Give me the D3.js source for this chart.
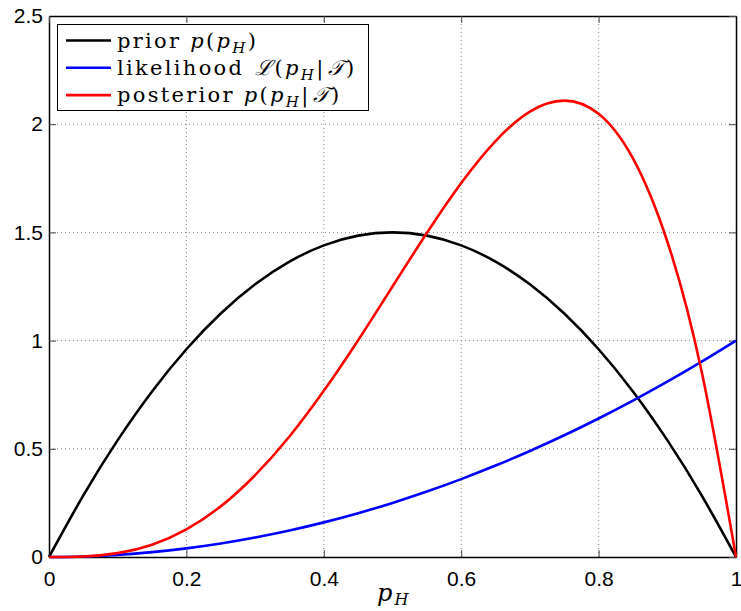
<!DOCTYPE html>
<html>
<head>
<meta charset="utf-8">
<script src="https://cdn.jsdelivr.net/npm/d3@7"></script>
<style>
  body { margin: 0; background: #fff; }
  .tick text { font-family: "Liberation Sans", Arial, sans-serif; font-size: 21px; fill: #000; }
  .leg text, .xlab { font-family: "DejaVu Serif", "Liberation Serif", serif; }
</style>
</head>
<body>
<svg width="741" height="611"></svg>
<script>
// values, step 0.05 in p_H
var pH = [0, 0.05, 0.1, 0.15, 0.2, 0.25, 0.3, 0.35, 0.4, 0.45, 0.5, 0.55, 0.6, 0.65, 0.7, 0.75, 0.8, 0.85, 0.9, 0.95, 1];
var prior = [0, 0.285, 0.54, 0.765, 0.96, 1.125, 1.26, 1.365, 1.44, 1.485, 1.5, 1.485, 1.44, 1.365, 1.26, 1.125, 0.96, 0.765, 0.54, 0.285, 0];
var likelihood = [0, 0.0025, 0.01, 0.0225, 0.04, 0.0625, 0.09, 0.1225, 0.16, 0.2025, 0.25, 0.3025, 0.36, 0.4225, 0.49, 0.5625, 0.64, 0.7225, 0.81, 0.9025, 1];
var posterior = [0, 0.0024, 0.018, 0.057, 0.128, 0.234, 0.378, 0.557, 0.768, 1.002, 1.25, 1.497, 1.728, 1.922, 2.058, 2.109, 2.048, 1.842, 1.458, 0.857, 0];

var xTicks = [0, 0.2, 0.4, 0.6, 0.8, 1];
var yTicks = [0, 0.5, 1, 1.5, 2, 2.5];

var series = [
  {name: "prior", values: prior, color: "#000000"},
  {name: "likelihood", values: likelihood, color: "#0000ff"},
  {name: "posterior", values: posterior, color: "#ff0000"}
];

var svg = d3.select("svg");
var padding = {top: 16, right: 5, bottom: 54, left: 49};
var width = +svg.attr("width"), height = +svg.attr("height");
var w = width - padding.left - padding.right;
var h = height - padding.top - padding.bottom;

var canvas = svg.append("g")
  .attr("transform", "translate(" + padding.left + "," + padding.top + ")");

var x = d3.scaleLinear().domain([0, 1]).range([0, w]);
var y = d3.scaleLinear().domain([0, 2.5]).range([h, 0]);

// dotted grid
canvas.selectAll("line.gx").data(xTicks.slice(1, -1)).enter().append("line")
  .attr("x1", d => x(d)).attr("x2", d => x(d)).attr("y1", 0).attr("y2", h)
  .style("stroke", "#888").style("stroke-dasharray", "1,3");
canvas.selectAll("line.gy").data(yTicks.slice(1, -1)).enter().append("line")
  .attr("x1", 0).attr("x2", w).attr("y1", d => y(d)).attr("y2", d => y(d))
  .style("stroke", "#888").style("stroke-dasharray", "1,3");

// axes, ticks inward
var xAxis = d3.axisBottom(x).tickValues(xTicks).tickFormat(d3.format("")).tickSizeInner(-7).tickSizeOuter(0).tickPadding(14);
var yAxis = d3.axisLeft(y).tickValues(yTicks).tickFormat(d3.format("")).tickSizeInner(-7).tickSizeOuter(0).tickPadding(6);

var gX = canvas.append("g").attr("transform", "translate(0," + h + ")").call(xAxis);
var gY = canvas.append("g").call(yAxis);
canvas.append("g").call(d3.axisTop(x).tickValues(xTicks).tickFormat("").tickSizeInner(-7).tickSizeOuter(0));
canvas.append("g").attr("transform", "translate(" + w + ",0)")
  .call(d3.axisRight(y).tickValues(yTicks).tickFormat("").tickSizeInner(-7).tickSizeOuter(0));
canvas.selectAll(".domain").style("stroke", "#000").style("stroke-width", 1.5);
canvas.selectAll(".tick line").style("stroke", "#444");

// curves
var line = d3.line()
  .x(function(d, i) { return x(pH[i]); })
  .y(function(d) { return y(d); })
  .curve(d3.curveNatural);

canvas.selectAll("path.line").data(series).enter().append("path")
  .attr("class", "line")
  .attr("d", d => line(d.values))
  .style("fill", "none")
  .style("stroke", d => d.color)
  .style("stroke-width", 2.6);

// legend
var leg = svg.append("g").attr("class", "leg");
leg.append("rect").attr("x", 57.5).attr("y", 24.5).attr("width", 311).attr("height", 86)
  .style("fill", "#fff").style("stroke", "#000").style("stroke-width", 1);

var labels = [
  [{t: "prior "}, {t: "p", i: 1}, {t: "("}, {t: "p", i: 1}, {t: "H", i: 1, sub: 1}, {t: ")"}],
  [{t: "likelihood "}, {t: "ℒ", i: 1}, {t: "("}, {t: "p", i: 1}, {t: "H", i: 1, sub: 1}, {t: "|"}, {t: "𝒯", i: 1}, {t: ")"}],
  [{t: "posterior "}, {t: "p", i: 1}, {t: "("}, {t: "p", i: 1}, {t: "H", i: 1, sub: 1}, {t: "|"}, {t: "𝒯", i: 1}, {t: ")"}]
];

series.forEach(function(s, k) {
  var yy = 40.5 + k * 27.3;
  leg.append("line").attr("x1", 66).attr("x2", 111).attr("y1", yy).attr("y2", yy)
    .style("stroke", s.color).style("stroke-width", 2.6);
  var tx = leg.append("text").attr("x", 117).attr("y", yy + 7)
    .style("font-size", "21px").style("letter-spacing", "2.3px");
  labels[k].forEach(function(p, j) {
    var sp = tx.append("tspan").text(p.t);
    if (p.i) sp.style("font-style", "italic");
    if (p.t === "ℒ" || p.t === "𝒯") sp.attr("dx", 2);
    if (p.sub) sp.style("font-size", "15px").attr("dy", 5);
    else if (j > 0 && labels[k][j - 1].sub) sp.attr("dy", -5);
  });
});

// x label
var xl = svg.append("text").attr("class", "xlab").attr("x", 377).attr("y", 601)
  .style("font-size", "24px").style("font-style", "italic");
xl.append("tspan").text("p");
xl.append("tspan").text("H").style("font-size", "16px").attr("dy", 4).attr("dx", 2);
</script>
</body>
</html>
